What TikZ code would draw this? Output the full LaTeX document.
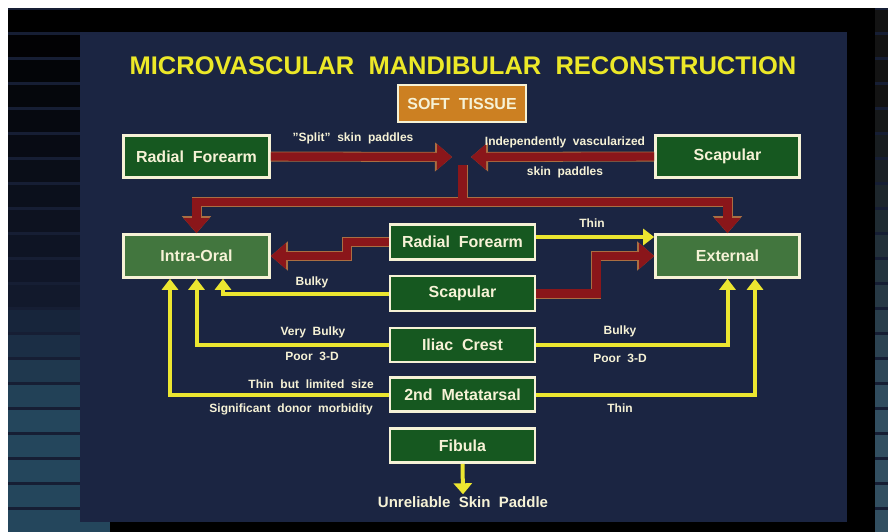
\documentclass[tikz,border=0pt]{standalone}
\usepackage{fontspec}
\setmainfont{Liberation Sans}
\usetikzlibrary{arrows.meta,calc}
\definecolor{panel}{RGB}{27,37,66}
\definecolor{boxgreen}{RGB}{22,88,32}
\definecolor{lightgreen}{RGB}{66,118,62}
\definecolor{cream}{RGB}{246,242,214}
\definecolor{redarr}{RGB}{138,22,26}
\definecolor{redline}{RGB}{170,110,66}
\definecolor{yarr}{RGB}{236,230,48}
\definecolor{titley}{RGB}{236,232,40}
\definecolor{softorange}{RGB}{204,128,34}
\definecolor{teal}{RGB}{36,70,92}
\definecolor{darknavy}{RGB}{20,28,50}
\definecolor{gapnavy}{RGB}{22,30,52}
\begin{document}
\begin{tikzpicture}[x=1pt,y=-1pt,
  box/.style={draw=cream, line width=2.6pt, fill=boxgreen, text=cream,
    font=\bfseries\fontsize{16}{18}\selectfont, minimum width=145pt, inner sep=0pt},
  lbl/.style={text=cream, font=\bfseries\fontsize{12}{14}\selectfont, inner sep=1pt},
  redout/.style={draw=redline, line width=10pt, line join=miter,
    -{Triangle[width=28pt,length=17pt]}},
  redin/.style={draw=redarr, line width=8.4pt, line join=miter,
    -{Triangle[width=25pt,length=15pt]}},
  redoutplain/.style={draw=redline, line width=10pt, line join=miter},
  redinplain/.style={draw=redarr, line width=8.4pt, line join=miter},
  yarrow/.style={draw=yarr, line width=4pt, line join=miter,
    -{Triangle[width=16pt,length=11pt]}}
]
% ---------- background ----------
\fill[white] (0,0) rectangle (888,532);
\fill[black] (8,8) rectangle (888,532);
% left striped strip
\fill[gapnavy] (8,8) rectangle (80,532);
\foreach \i in {0,...,11}{
  \pgfmathsetmacro{\ya}{10+25*\i}
  \pgfmathsetmacro{\mix}{8*\i}
  \fill[darknavy!\mix!black] (8,\ya) rectangle (80,\ya+22);
}
\foreach \i in {12,...,20}{
  \pgfmathsetmacro{\ya}{10+25*\i}
  \pgfmathsetmacro{\yb}{min(532,\ya+22)}
  \pgfmathsetmacro{\tmix}{min(100,(\i-11)*22)}
  \fill[teal!\tmix!darknavy] (8,\ya) rectangle (80,\yb);
}
% right striped strip
\fill[gapnavy] (875,8) rectangle (888,532);
\foreach \i in {0,...,20}{
  \pgfmathsetmacro{\ya}{10+25*\i}
  \pgfmathsetmacro{\yb}{min(532,\ya+22)}
  \pgfmathsetmacro{\tmix}{\i<4 ? 0 : min(100,(\i-3)*8)}
  \fill[teal!\tmix!black!85!gray] (875,\ya) rectangle (888,\yb);
}
\fill[teal] (8,522) rectangle (110,532);
\fill[black] (847,8) rectangle (875,532);
\fill[black] (110,522) rectangle (875,532);
\fill[black] (80,8) rectangle (847,32);
\fill[panel] (80,32) rectangle (847,522);

% ---------- title ----------
\node[text=titley, font=\bfseries\fontsize{25.5}{28}\selectfont] (title) at (463,66)
  {MICROVASCULAR\ \ MANDIBULAR\ \ RECONSTRUCTION};

% ---------- nodes ----------
\node[box, fill=softorange, minimum width=128pt, minimum height=37pt] (soft) at (462,103.5) {SOFT\ \ TISSUE};
\node[box, minimum width=146pt, minimum height=42pt] (rfTop) at (196.5,156.5) {Radial\ \ Forearm};
\node[box, minimum width=144pt, minimum height=42pt] (scTop) at (727.5,156.5) {Scapular};
\node[box, fill=lightgreen, minimum width=146pt, minimum height=43pt] (intra) at (196.5,256) {Intra-Oral};
\node[box, fill=lightgreen, minimum width=144pt, minimum height=43pt] (ext) at (727.5,256) {External};
\node[box, minimum height=35pt] (mRF) at (462.5,242) {Radial\ \ Forearm};
\node[box, minimum height=35pt] (mSc) at (462.5,293.5) {Scapular};
\node[box, minimum height=34pt] (mIl) at (462.5,345) {Iliac\ \ Crest};
\node[box, minimum height=34pt] (mMt) at (462.5,394.5) {2nd\ \ Metatarsal};
\node[box, minimum height=34pt] (mFi) at (462.5,445.5) {Fibula};
\node[text=cream, font=\bfseries\fontsize{15}{17}\selectfont, inner sep=2pt] (unrel) at (463,502) {Unreliable\ \ Skin\ \ Paddle};

% ---------- hub coordinates ----------
\coordinate (hubL) at (452,157);
\coordinate (hubR) at (471,157);
\coordinate (stemTop) at (462.5,165);
\coordinate (bar) at (462.5,202);

% ---------- red arrows: outline pass ----------
\draw[redout] (rfTop.east) -- (hubL);
\draw[redout] (scTop.west) -- (hubR);
\draw[redoutplain] (stemTop) -- (bar);
\draw[redout] (bar) -| (intra.north);
\draw[redout] (bar) -| (ext.north);
\draw[redout] (mRF.west) -- ++(-42,0) |- (intra.east);
\draw[redout] (mSc.east) -- ++(60,0) |- (ext.west);
% ---------- red arrows: fill pass ----------
\draw[redin] (rfTop.east) -- (hubL);
\draw[redin] (scTop.west) -- (hubR);
\draw[redinplain] (stemTop) -- (bar);
\draw[redin] (bar) -| (intra.north);
\draw[redin] (bar) -| (ext.north);
\draw[redin] (mRF.west) -- ++(-42,0) |- (intra.east);
\draw[redin] (mSc.east) -- ++(60,0) |- (ext.west);

% ---------- yellow arrows ----------
\draw[yarrow] ([yshift=5pt]mRF.east) -- ([yshift=5pt]mRF.east -| ext.west);
\draw[yarrow] (mSc.west) -| ([xshift=26.5pt]intra.south);
\draw[yarrow] (mIl.west) -| (intra.south);
\draw[yarrow] (mMt.west) -| ([xshift=-26.5pt]intra.south);
\draw[yarrow] (mIl.east) -| (ext.south);
\draw[yarrow] (mMt.east) -| ([xshift=27.5pt]ext.south);
\draw[yarrow, -{Triangle[width=18pt,length=11pt]}] (mFi.south) -- (unrel.north);

% ---------- labels ----------
\node[lbl] (lSplit) at (353,138) {"Split"\ \ skin\ \ paddles};
\node[lbl] (lInd) at (565,142) {Independently\ \ vascularized};
\node[lbl] (lInd2) at (565,172) {skin\ \ paddles};
\node[lbl] (lThin1) at (592,223) {Thin};
\node[lbl] (lBulky1) at (312,282) {Bulky};
\node[lbl] (lVB) at (313,332) {Very\ \ Bulky};
\node[lbl] (lP1) at (312,356) {Poor\ \ 3-D};
\node[lbl] (lBulky2) at (620,331) {Bulky};
\node[lbl] (lP2) at (620,358) {Poor\ \ 3-D};
\node[lbl, anchor=east] (lTBL) at (375,384) {Thin\ \ but\ \ limited\ \ size};
\node[lbl, anchor=east] (lSDM) at (374,409) {Significant\ \ donor\ \ morbidity};
\node[lbl] (lThin2) at (620,408) {Thin};
\end{tikzpicture}
\end{document}
